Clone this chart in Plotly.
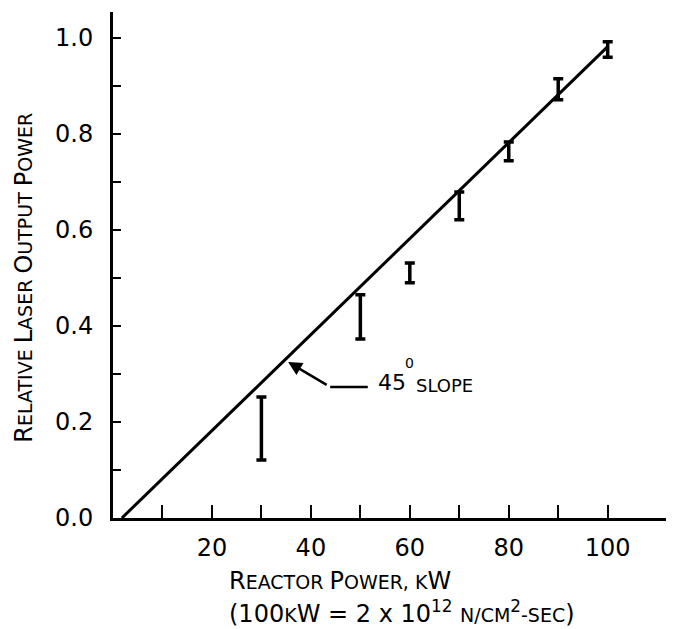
import plotly.graph_objects as go

# ---- data ----
reactor_power_kw = [30, 50, 60, 70, 80, 90, 100]
output_low = [0.121, 0.373, 0.490, 0.621, 0.744, 0.871, 0.960]
output_high = [0.252, 0.465, 0.531, 0.679, 0.783, 0.915, 0.992]

slope_x = [1.8, 100]
slope_y = [0.0, 0.982]

x_tick_vals = [20, 40, 60, 80, 100]
x_tick_text = ["20", "40", "60", "80", "100"]
x_minor_vals = [10, 30, 50, 70, 90]
y_tick_vals = [0.0, 0.2, 0.4, 0.6, 0.8, 1.0]
y_tick_text = ["0.0", "0.2", "0.4", "0.6", "0.8", "1.0"]
y_minor_vals = [0.1, 0.3, 0.5, 0.7, 0.9]

FONT = "DejaVu Sans"
BIG = 24
SMALL = 19


def sc(s):
    return f"<span style='font-size:{SMALL}px'>{s}</span>"


fig = go.Figure()

fig.add_trace(go.Scatter(
    x=slope_x, y=slope_y, mode="lines",
    line=dict(color="black", width=3), showlegend=False, hoverinfo="skip"))

fig.add_trace(go.Scatter(
    x=reactor_power_kw, y=output_low, mode="markers",
    marker=dict(size=1, color="rgba(0,0,0,0)"),
    error_y=dict(type="data", symmetric=False,
                 array=[h - l for h, l in zip(output_high, output_low)],
                 arrayminus=[0] * len(output_low),
                 color="black", thickness=3.5, width=5),
    showlegend=False))

# bent leader line for the annotation
fig.add_trace(go.Scatter(
    x=[43.9, 51.5], y=[0.273, 0.273], mode="lines",
    line=dict(color="black", width=2.5), showlegend=False, hoverinfo="skip"))

annotations = [
    dict(x=35.4, y=0.325, ax=43.9, ay=0.273, xref="x", yref="y", axref="x", ayref="y",
         showarrow=True, arrowhead=2, arrowsize=1.1, arrowwidth=2.5, arrowcolor="black",
         text=" "),
    dict(x=53.2, y=0.283, xref="x", yref="y", xanchor="left", yanchor="middle",
         text="45", showarrow=False, font=dict(size=22, family=FONT, color="black")),
    dict(x=58.6, y=0.323, xref="x", yref="y", xanchor="left", yanchor="middle",
         text="0", showarrow=False, font=dict(size=14, family=FONT, color="black")),
    dict(x=60.8, y=0.275, xref="x", yref="y", xanchor="left", yanchor="middle",
         text="SLOPE", showarrow=False, font=dict(size=18, family=FONT, color="black")),
    # y title
    dict(x=-0.159, y=0.475, xref="paper", yref="paper", xanchor="center", yanchor="middle",
         textangle=-90, showarrow=False,
         text="R" + sc("ELATIVE ") + "L" + sc("ASER ") + "O" + sc("UTPUT ") + "P" + sc("OWER"),
         font=dict(size=BIG, family=FONT, color="black")),
    # x title line 1
    dict(x=0.204, y=-0.125, xref="paper", yref="paper", xanchor="left", yanchor="middle",
         showarrow=False,
         text="R" + sc("EACTOR ") + "P" + sc("OWER, K") + "W",
         font=dict(size=BIG, family=FONT, color="black")),
    # x title line 2
    dict(x=0.204, y=-0.186, xref="paper", yref="paper", xanchor="left", yanchor="middle",
         showarrow=False,
         text="(100" + sc("K") + "W = 2 x 10<sup>12</sup> " + sc("N/CM") + "<sup>2</sup>" + sc("-SEC") + ")",
         font=dict(size=BIG, family=FONT, color="black")),
]

# the page body has an 8px margin, so the figure starts at (8, 8)
fig.update_layout(
    width=666, height=621,
    margin=dict(l=105, r=2, t=4, b=111),
    paper_bgcolor="white", plot_bgcolor="white",
    font=dict(family=FONT, color="black"),
    annotations=annotations,
    xaxis=dict(range=[0, 113], showgrid=False, zeroline=False,
               showline=True, linecolor="black", linewidth=3,
               tickmode="array", tickvals=x_tick_vals, ticktext=x_tick_text,
               ticks="inside", ticklen=13, tickwidth=2, tickcolor="black",
               tickfont=dict(size=24, family=FONT, color="black"),
               ticklabelstandoff=6,
               minor=dict(tickvals=x_minor_vals, ticks="inside", ticklen=13,
                          tickwidth=2, tickcolor="black", showgrid=False)),
    yaxis=dict(range=[0, 1.054], showgrid=False, zeroline=False,
               showline=True, linecolor="black", linewidth=3,
               tickmode="array", tickvals=y_tick_vals, ticktext=y_tick_text,
               ticks="inside", ticklen=8, tickwidth=2, tickcolor="black",
               tickfont=dict(size=24, family=FONT, color="black"),
               ticklabelstandoff=12,
               minor=dict(tickvals=y_minor_vals, ticks="inside", ticklen=8,
                          tickwidth=2, tickcolor="black", showgrid=False)),
)

fig.write_html("out.html")
